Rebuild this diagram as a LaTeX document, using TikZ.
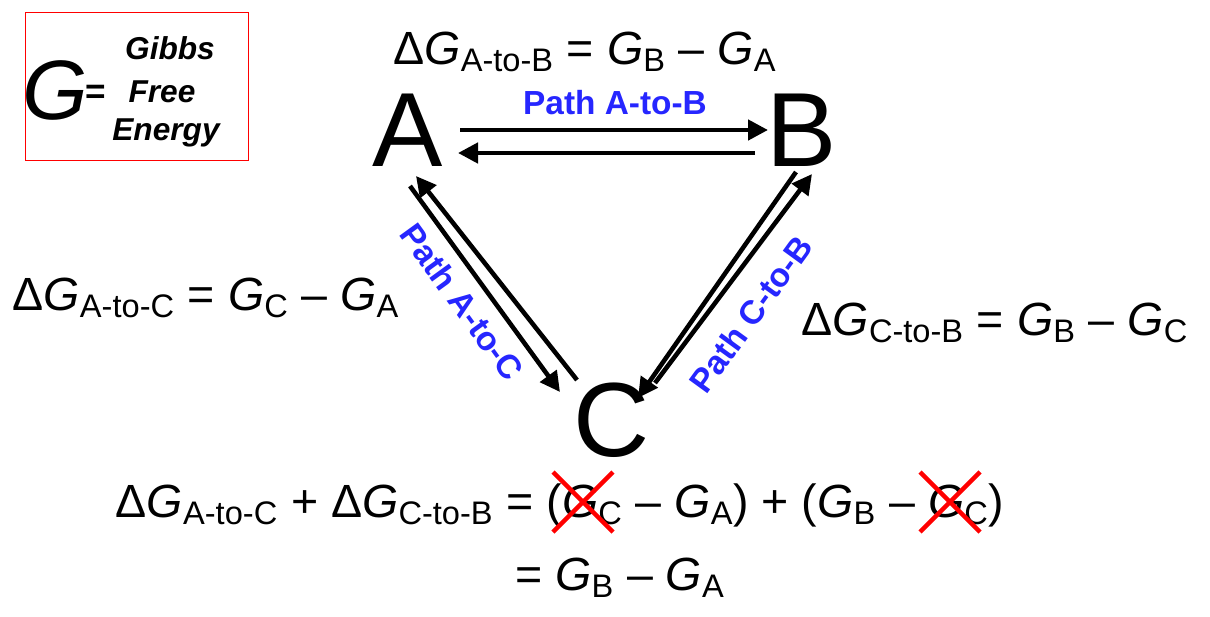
\documentclass[tikz,border=0pt]{standalone}
\usepackage{fontspec}
\setmainfont{Liberation Sans}
\usetikzlibrary{arrows.meta,positioning}
\newcommand{\gsub}[2]{\textit{#1}\textsubscript{#2}}
\tikzset{
  letter/.style={font=\fontsize{60}{60}\selectfont},
  eqn/.style={font=\fontsize{26.5}{30}\selectfont},
  pathlbl/.style={font=\fontsize{19}{21}\selectfont\bfseries, text=blue!85!white},
  boxtxt/.style={font=\fontsize{18}{20}\selectfont\bfseries\itshape},
  rxn/.style={-{Triangle[length=4mm,width=4mm]}, line width=2.6pt},
  cross/.style={red, line width=2.5pt}
}
\begin{document}
\begin{tikzpicture}[x=0.02cm,y=-0.02cm]
\useasboundingbox (0,0) rectangle (1210,616);
% legend box
\draw[red] (25,12) rectangle (248,160);
\node[font=\fontsize{48}{48}\selectfont\itshape] (bigG) at (55,90) {G};
\node[font=\fontsize{20}{20}\selectfont\bfseries] (eq) at (96,94) {=};
\node[boxtxt] (gibbs) at (170,48) {Gibbs};
\node[boxtxt] (free) at (162,92) {Free};
\node[boxtxt] (energy) at (166,133) {Energy};
% states
\node[letter] (A) at (408,130) {A};
\node[letter] (B) at (802,130) {B};
\node[letter] (C) at (612,420) {C};
% arrows
\coordinate (ab1) at (460,130); \coordinate (ab2) at (768,130);
\coordinate (ba1) at (755,153); \coordinate (ba2) at (458,153);
\draw[rxn] (ab1) -- (ab2);
\draw[rxn] (ba1) -- (ba2);
\coordinate (ac1) at (410,186); \coordinate (ac2) at (560,392);
\coordinate (ca1) at (577,380); \coordinate (ca2) at (416,176);
\draw[rxn] (ac1) -- (ac2);
\draw[rxn] (ca1) -- (ca2);
\coordinate (cb1) at (655,383); \coordinate (cb2) at (812,174);
\coordinate (bc1) at (796,172); \coordinate (bc2) at (638,398);
\draw[rxn] (cb1) -- (cb2);
\draw[rxn] (bc1) -- (bc2);
% path labels
\node[pathlbl] (pab) at (615,103) {Path A-to-B};
\node[pathlbl, rotate=-54] (pac) at (462,302) {Path A-to-C};
\node[pathlbl, rotate=54] (pcb) at (751,314) {Path C-to-B};
% free energy relations
\node[eqn] (dab) at (585,52) {Δ\gsub{G}{A-to-B} = \gsub{G}{B} -- \gsub{G}{A}};
\node[eqn] (dac) at (206,298) {Δ\gsub{G}{A-to-C} = \gsub{G}{C} -- \gsub{G}{A}};
\node[eqn] (dcb) at (995,323) {Δ\gsub{G}{C-to-B} = \gsub{G}{B} -- \gsub{G}{C}};
\node[eqn] (sum) at (560,505) {Δ\gsub{G}{A-to-C} + Δ\gsub{G}{C-to-B} = (\gsub{G}{C} -- \gsub{G}{A}) + (\gsub{G}{B} -- \gsub{G}{C})};
\node[eqn] (res) at (620,578) {= \gsub{G}{B} -- \gsub{G}{A}};
% cancellations
\draw[cross] (553,472) -- (613,532) (613,472) -- (553,532);
\draw[cross] (920,472) -- (980,532) (980,472) -- (920,532);
\end{tikzpicture}
\end{document}
